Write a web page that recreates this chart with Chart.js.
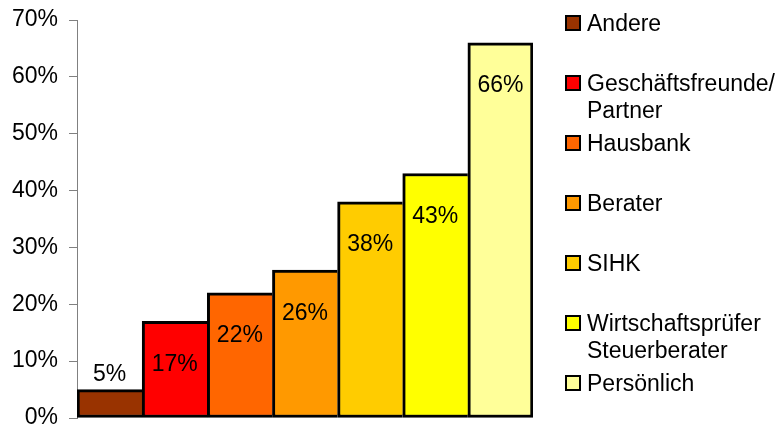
<!DOCTYPE html>
<html>
<head>
<meta charset="utf-8">
<script src="https://cdn.jsdelivr.net/npm/chart.js@4/dist/chart.umd.min.js"></script>
<style>
  html, body { margin: 0; padding: 0; background: #fff; }
  #wrap { position: relative; width: 783px; height: 427px; }
  #legend { position: absolute; left: 565px; top: 10px; font-family: 'Liberation Sans', Arial, sans-serif; font-size: 23px; color: #000; }
  .item { display: flex; align-items: flex-start; height: 60px; line-height: 27px; }
  .box { width: 12px; height: 12px; border: 2px solid #000; margin-top: 5px; margin-right: 6px; flex: none; }
</style>
</head>
<body>
<div id="wrap">
  <canvas id="chart" width="783" height="427"></canvas>
  <div id="legend"></div>
</div>
<script>
// Quellen / Anteile
const categories = ['Andere', 'Geschäftsfreunde/\nPartner', 'Hausbank', 'Berater', 'SIHK', 'Wirtschaftsprüfer\nSteuerberater', 'Persönlich'];
const values = [5, 17, 22, 26, 38, 43, 66];
const colors = ['#993300', '#FF0000', '#FF6600', '#FF9900', '#FFCC00', '#FFFF00', '#FFFF99'];
const yTicks = [0, 10, 20, 30, 40, 50, 60, 70];

const FONT = "'Liberation Sans', Arial, sans-serif";

// legend (html, keeps the two-line labels)
const legendEl = document.getElementById('legend');
categories.forEach((name, i) => {
    const item = document.createElement('div');
    item.className = 'item';
    const box = document.createElement('span');
    box.className = 'box';
    box.style.background = colors[i];
    const txt = document.createElement('span');
    txt.innerHTML = name.split('\n').join('<br>');
    item.appendChild(box);
    item.appendChild(txt);
    legendEl.appendChild(item);
});

const valueLabels = {
    id: 'valueLabels',
    afterDatasetsDraw(chart) {
        const ctx = chart.ctx;
        const meta = chart.getDatasetMeta(0);
        ctx.save();
        ctx.font = '23px ' + FONT;
        ctx.fillStyle = '#000';
        ctx.textAlign = 'center';
        ctx.textBaseline = 'middle';
        meta.data.forEach((bar, i) => {
            const h = bar.base - bar.y;
            const y = h < 50 ? bar.y - 15 : bar.y + 43;
            ctx.fillText(values[i] + '%', bar.x, y);
        });
        ctx.restore();
    }
};

new Chart(document.getElementById('chart'), {
    type: 'bar',
    data: {
        labels: categories,
        datasets: [{
            data: values,
            backgroundColor: colors,
            borderColor: '#000',
            borderSkipped: false,
            borderWidth: ctx => ({ top: 3, left: 3, bottom: 3, right: ctx.dataIndex === values.length - 1 ? 3 : 0 }),
            barPercentage: 1,
            categoryPercentage: 1
        }]
    },
    options: {
        responsive: false,
        animation: false,
        layout: { padding: { top: 20, bottom: 9, left: 0, right: 250 } },
        plugins: { legend: { display: false }, tooltip: { enabled: false } },
        scales: {
            x: { display: false },
            y: {
                min: 0,
                max: 70,
                afterBuildTicks: scale => { scale.ticks = yTicks.map(v => ({ value: v })); },
                afterFit: scale => { scale.width = 77; scale.paddingTop = 0; scale.paddingBottom = 0; },
                border: { display: true, color: '#808080', width: 1 },
                grid: { drawOnChartArea: false, drawTicks: true, tickLength: 8, color: '#808080' },
                ticks: {
                    padding: 11,
                    color: '#000',
                    font: { family: FONT, size: 23 },
                    callback: v => v + '%'
                }
            }
        }
    },
    plugins: [valueLabels]
});
</script>
</body>
</html>
